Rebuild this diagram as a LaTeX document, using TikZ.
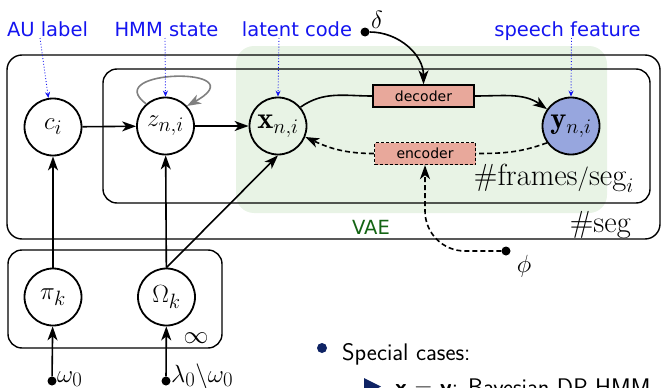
\documentclass[tikz,border=0pt]{standalone}
\usepackage{fontspec}
\usetikzlibrary{arrows.meta}
\newfontfamily\labfont{DejaVu Sans}
\definecolor{labblue}{RGB}{20,20,240}
\definecolor{vaegreen}{RGB}{232,243,229}
\definecolor{vaetext}{RGB}{20,100,20}
\definecolor{obsblue}{RGB}{151,166,222}
\definecolor{netfill}{RGB}{232,168,155}
\definecolor{navy}{RGB}{15,35,100}
\definecolor{loopgray}{RGB}{128,128,128}
\tikzset{
  var/.style={circle, draw, line width=1.8pt, minimum size=57pt, inner sep=0pt,
    font=\fontsize{30.5}{33}\selectfont},
  obs/.style={var, fill=obsblue},
  plate/.style={draw, line width=1.4pt, rounded corners=15pt},
  net/.style={draw, line width=1.3pt, fill=netfill, minimum width=101pt,
    minimum height=22pt, inner sep=0pt, font=\labfont\fontsize{14}{16}\selectfont},
  tip/.style={-{Stealth[length=14pt,width=10pt,inset=4pt]}},
  arr/.style={line width=1.6pt, tip},
  link/.style={line width=1.6pt},
  dlink/.style={line width=1.6pt, dash pattern=on 5pt off 3pt},
  darr/.style={arr, dash pattern=on 5pt off 3pt},
  selfloop/.style={loopgray, line width=1.6pt, tip},
  tag/.style={text=labblue, font=\labfont\fontsize{19.5}{22}\selectfont,
    inner sep=0pt, anchor=base},
  pointer/.style={labblue, line width=0.9pt, dotted,
    -{Stealth[length=6pt,width=5pt]}},
  hyper/.style={circle, fill, inner sep=0pt, minimum size=9pt},
  mathlab/.style={font=\fontsize{30.5}{33}\selectfont, inner sep=0pt},
  slidetext/.style={font=\sffamily\fontsize{24}{28}\selectfont, inner sep=0pt,
    anchor=base west},
}
\begin{document}
\begin{tikzpicture}[x=1pt,y=-1pt]
\useasboundingbox (0,0) rectangle (662,388);
\clip (0,0) rectangle (662,388);

% VAE region
\fill[vaegreen, rounded corners=18pt] (236,46) rectangle (607,213);

% plates
\draw[plate] (7,55) rectangle (660,239);
\draw[plate, rounded corners=14pt] (103,69) rectangle (650,203);
\draw[plate, rounded corners=14pt] (8,250) rectangle (222,348);

% random variables
\node[var] (c)  at (53,127)    {$c_i$};
\node[var] (z)  at (165.5,126) {$z_{n,i}$};
\node[var] (x)  at (278,126)   {$\mathbf{x}_{n,i}$};
\node[obs] (y)  at (571,126)   {$\mathbf{y}_{n,i}$};
\node[var] (pi) at (53,297)    {$\pi_k$};
\node[var] (om) at (166.5,297) {$\Omega_k$};

% networks
\node[net] (dec) at (423.5,96) {decoder};
\node[net, dash pattern=on 3pt off 2pt] (enc) at (425,153.5) {encoder};

% hyperparameters
\node[hyper] (w0)    at (52,381)    {};
\node[hyper] (l0)    at (166,381)   {};
\node[hyper] (delta) at (365,32)    {};
\node[hyper] (phi)   at (506,251)   {};
\node[mathlab, anchor=base west] at (57,382)  {$\omega_0$};
\node[mathlab, anchor=base west] at (171,382) {$\lambda_0\backslash\omega_0$};
\node[mathlab, anchor=base west] at (371,28)  {$\delta$};
\node[mathlab] at (524,266) {$\phi$};

% plate labels
\node[mathlab] at (196,338) {$\infty$};
\node[mathlab, anchor=base east] at (634,185) {$\#\mathrm{frames}/\mathrm{seg}_i$};
\node[mathlab, anchor=base east] at (631,232) {$\#\mathrm{seg}$};
\node[font=\labfont\fontsize{19.5}{22}\selectfont, text=vaetext, inner sep=0pt,
  anchor=base] at (371,234) {VAE};

% dependencies
\draw[arr] (c) -- (z);
\draw[arr] (z) -- (x);
\draw[arr] (pi) -- (c);
\draw[arr] (om) -- (z);
\draw[arr] (om.north) -- (x.south);
\draw[arr] (w0) -- (pi);
\draw[arr] (l0) -- (om);
\draw[selfloop] (z.131) .. controls +(-48,-35) and +(72,-40) .. (z.43);

% generative and inference networks
\draw[link] (x.40) to[out=35,in=180] (dec.west);
\draw[arr] (dec.east) to[out=0,in=145] (y.145);
\draw[dlink] (y.215) to[out=200,in=0] (enc.east);
\draw[darr] (enc.west) to[out=180,in=-25] (x.-22);
\draw[arr] (delta) to[out=0,in=90] (dec.north);
\draw[darr, rounded corners=40pt] (phi) -| (enc.south);

% annotations
\node[tag] (aul) at (47.5,36)  {AU label};
\node[tag] (hmm) at (166.5,36) {HMM state};
\node[tag] (lat) at (297,36)   {latent code};
\node[tag] (sf)  at (567.5,36) {speech feature};
\draw[pointer] ([shift={(-7.5,2)}]aul.base) -- (c.99);
\draw[pointer] ([shift={(-1.5,2)}]hmm.base) -- (z.north);
\draw[pointer] ([shift={(-18,2)}]lat.base) -- (x.north);
\draw[pointer] ([shift={(4,2)}]sf.base) -- (y.north);

% slide text
\fill[navy] (322,348) circle (5);
\node[slidetext] (sc) at (342,360) {Special cases:};
\fill[navy] (364,378) -- (381,386.5) -- (364,395) -- cycle;
\node[slidetext] (case) at (395,395) {\textbf{x} = \textbf{y}: Bayesian DP-HMM};
\end{tikzpicture}
\end{document}
